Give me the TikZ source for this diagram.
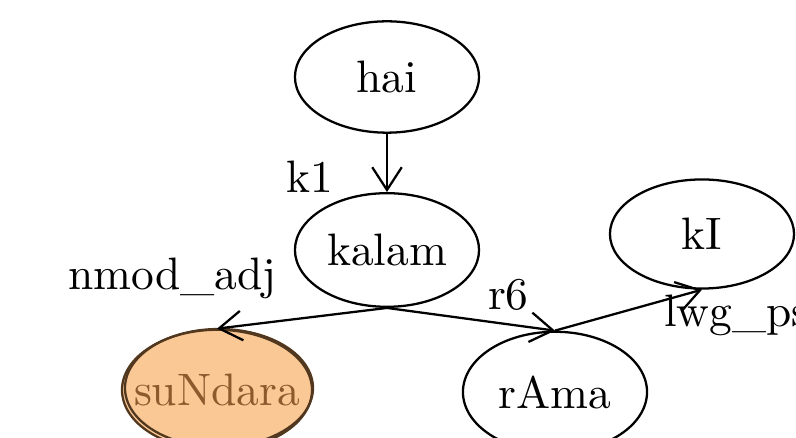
\documentclass[tikz,border=0pt]{standalone}
\usetikzlibrary{shapes,arrows.meta}

\definecolor{peach}{RGB}{250,200,148}
\definecolor{peachtext}{RGB}{140,90,45}
\definecolor{peachline}{RGB}{80,55,30}

\begin{document}
\begin{tikzpicture}[x=0.22pt,y=-0.22pt,line width=0.5pt,
    word/.style={ellipse,draw,inner sep=0pt,minimum width=40.5pt,minimum height=24.5pt},
    rel/.style={anchor=base west,inner sep=0pt},
    move/.style={->,>={Straight Barb[length=5pt,width=6.5pt]},draw}]

    \useasboundingbox (0,0) rectangle (796,438);
    \clip (0,0) rectangle (796,438);

    \node[word] (hai) at (387,77) {hai};
    \node[word,minimum height=25pt] (kalam) at (387,250) {kalam};
    \node[word,minimum height=24pt] (kI) at (702,234) {kI};
    \node[word,minimum height=26.5pt] (rAma) at (555,392) {rAma};
    \node[word,minimum width=41.8pt,minimum height=26.5pt,inner xsep=-5pt,
          fill=peach,draw=peachline,text=peachtext] (suNdara) at (217,390) {suNdara};
    \draw[peachline] (219,388) ellipse [x radius=94,y radius=59];

    \node[rel] (k1) at (285,193) {k1};
    \node[rel] (nmod) at (67,290) {nmod\_adj};
    \node[rel] (r6) at (487,310) {r6};
    \node[rel] (lwg) at (663,327) {lwg\_ps};

    \path[move] (hai) -- (kalam);
    \path[move] (kalam.south) -- (suNdara.north);
    \path[move] (kalam.south) -- (rAma.north);
    \path[move] (rAma.north) -- (kI.south);
  \end{tikzpicture}
\end{document}
